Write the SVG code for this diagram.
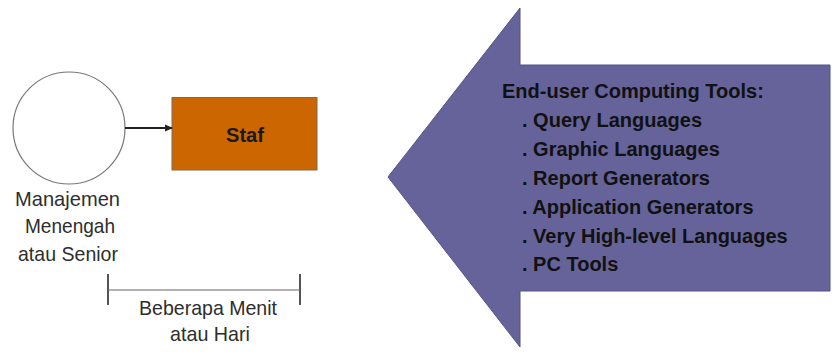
<svg xmlns="http://www.w3.org/2000/svg" width="834" height="361" viewBox="0 0 834 361">
  <defs>
    <marker id="arrowhead" markerWidth="8" markerHeight="8" refX="7" refY="4" orient="auto" markerUnits="userSpaceOnUse">
      <path d="M0,0.5 L8,4 L0,7.5 Z" fill="#222"/>
    </marker>
  </defs>
  <style>
    .label { font-family: "Liberation Sans", Arial, sans-serif; font-size: 21px; fill: #2e2e2e; }
    .tools { font-family: "Liberation Sans", Arial, sans-serif; font-size: 20px; font-weight: bold; fill: #111; }
    .bar { stroke: #555; stroke-width: 2; fill: none; }
  </style>
  <rect width="834" height="361" fill="#fff"/>

  <!-- Big left-pointing arrow with the tool list -->
  <g id="tools-arrow">
    <path d="M520,8 L520,65 L830,65 L830,291 L520,291 L520,347 L388,177 Z" fill="#65639a" stroke="#55538a" stroke-width="1"/>
    <text class="tools" x="502" y="98">End-user Computing Tools:</text>
    <text class="tools" x="522" y="127">. Query Languages</text>
    <text class="tools" x="522" y="156">. Graphic Languages</text>
    <text class="tools" x="522" y="185">. Report Generators</text>
    <text class="tools" x="522" y="214">. Application Generators</text>
    <text class="tools" x="522" y="243">. Very High-level Languages</text>
    <text class="tools" x="522" y="271">. PC Tools</text>
  </g>

  <!-- Management circle -->
  <g id="manager">
    <circle cx="69" cy="128" r="56" fill="#fff" stroke="#777" stroke-width="1.2"/>
    <text class="label" x="15" y="206" textLength="105" lengthAdjust="spacingAndGlyphs">Manajemen</text>
    <text class="label" x="25" y="233" textLength="90" lengthAdjust="spacingAndGlyphs">Menengah</text>
    <text class="label" x="18" y="261" textLength="100" lengthAdjust="spacingAndGlyphs">atau Senior</text>
  </g>

  <!-- Staff box -->
  <g id="staff">
    <rect x="172" y="97.5" width="145" height="72.5" fill="#cc6600" stroke="#7d6a55" stroke-width="1"/>
    <text x="245" y="142" text-anchor="middle" font-family="Liberation Sans, Arial, sans-serif" font-size="20" font-weight="bold" fill="#1a1a1a">Staf</text>
  </g>

  <!-- Time span bracket -->
  <g id="timespan">
    <line class="bar" x1="108" y1="274" x2="108" y2="305"/>
    <line class="bar" x1="300" y1="274" x2="300" y2="305"/>
    <line x1="108" y1="290" x2="300" y2="290" stroke="#666" stroke-width="1.2"/>
    <text class="label" x="139" y="315" textLength="138" lengthAdjust="spacingAndGlyphs">Beberapa Menit</text>
    <text class="label" x="170" y="341" textLength="80" lengthAdjust="spacingAndGlyphs">atau Hari</text>
  </g>

  <g id="connectors">
    <line x1="125" y1="128" x2="172" y2="128" stroke="#222" stroke-width="2" marker-end="url(#arrowhead)"/>
  </g>
</svg>
